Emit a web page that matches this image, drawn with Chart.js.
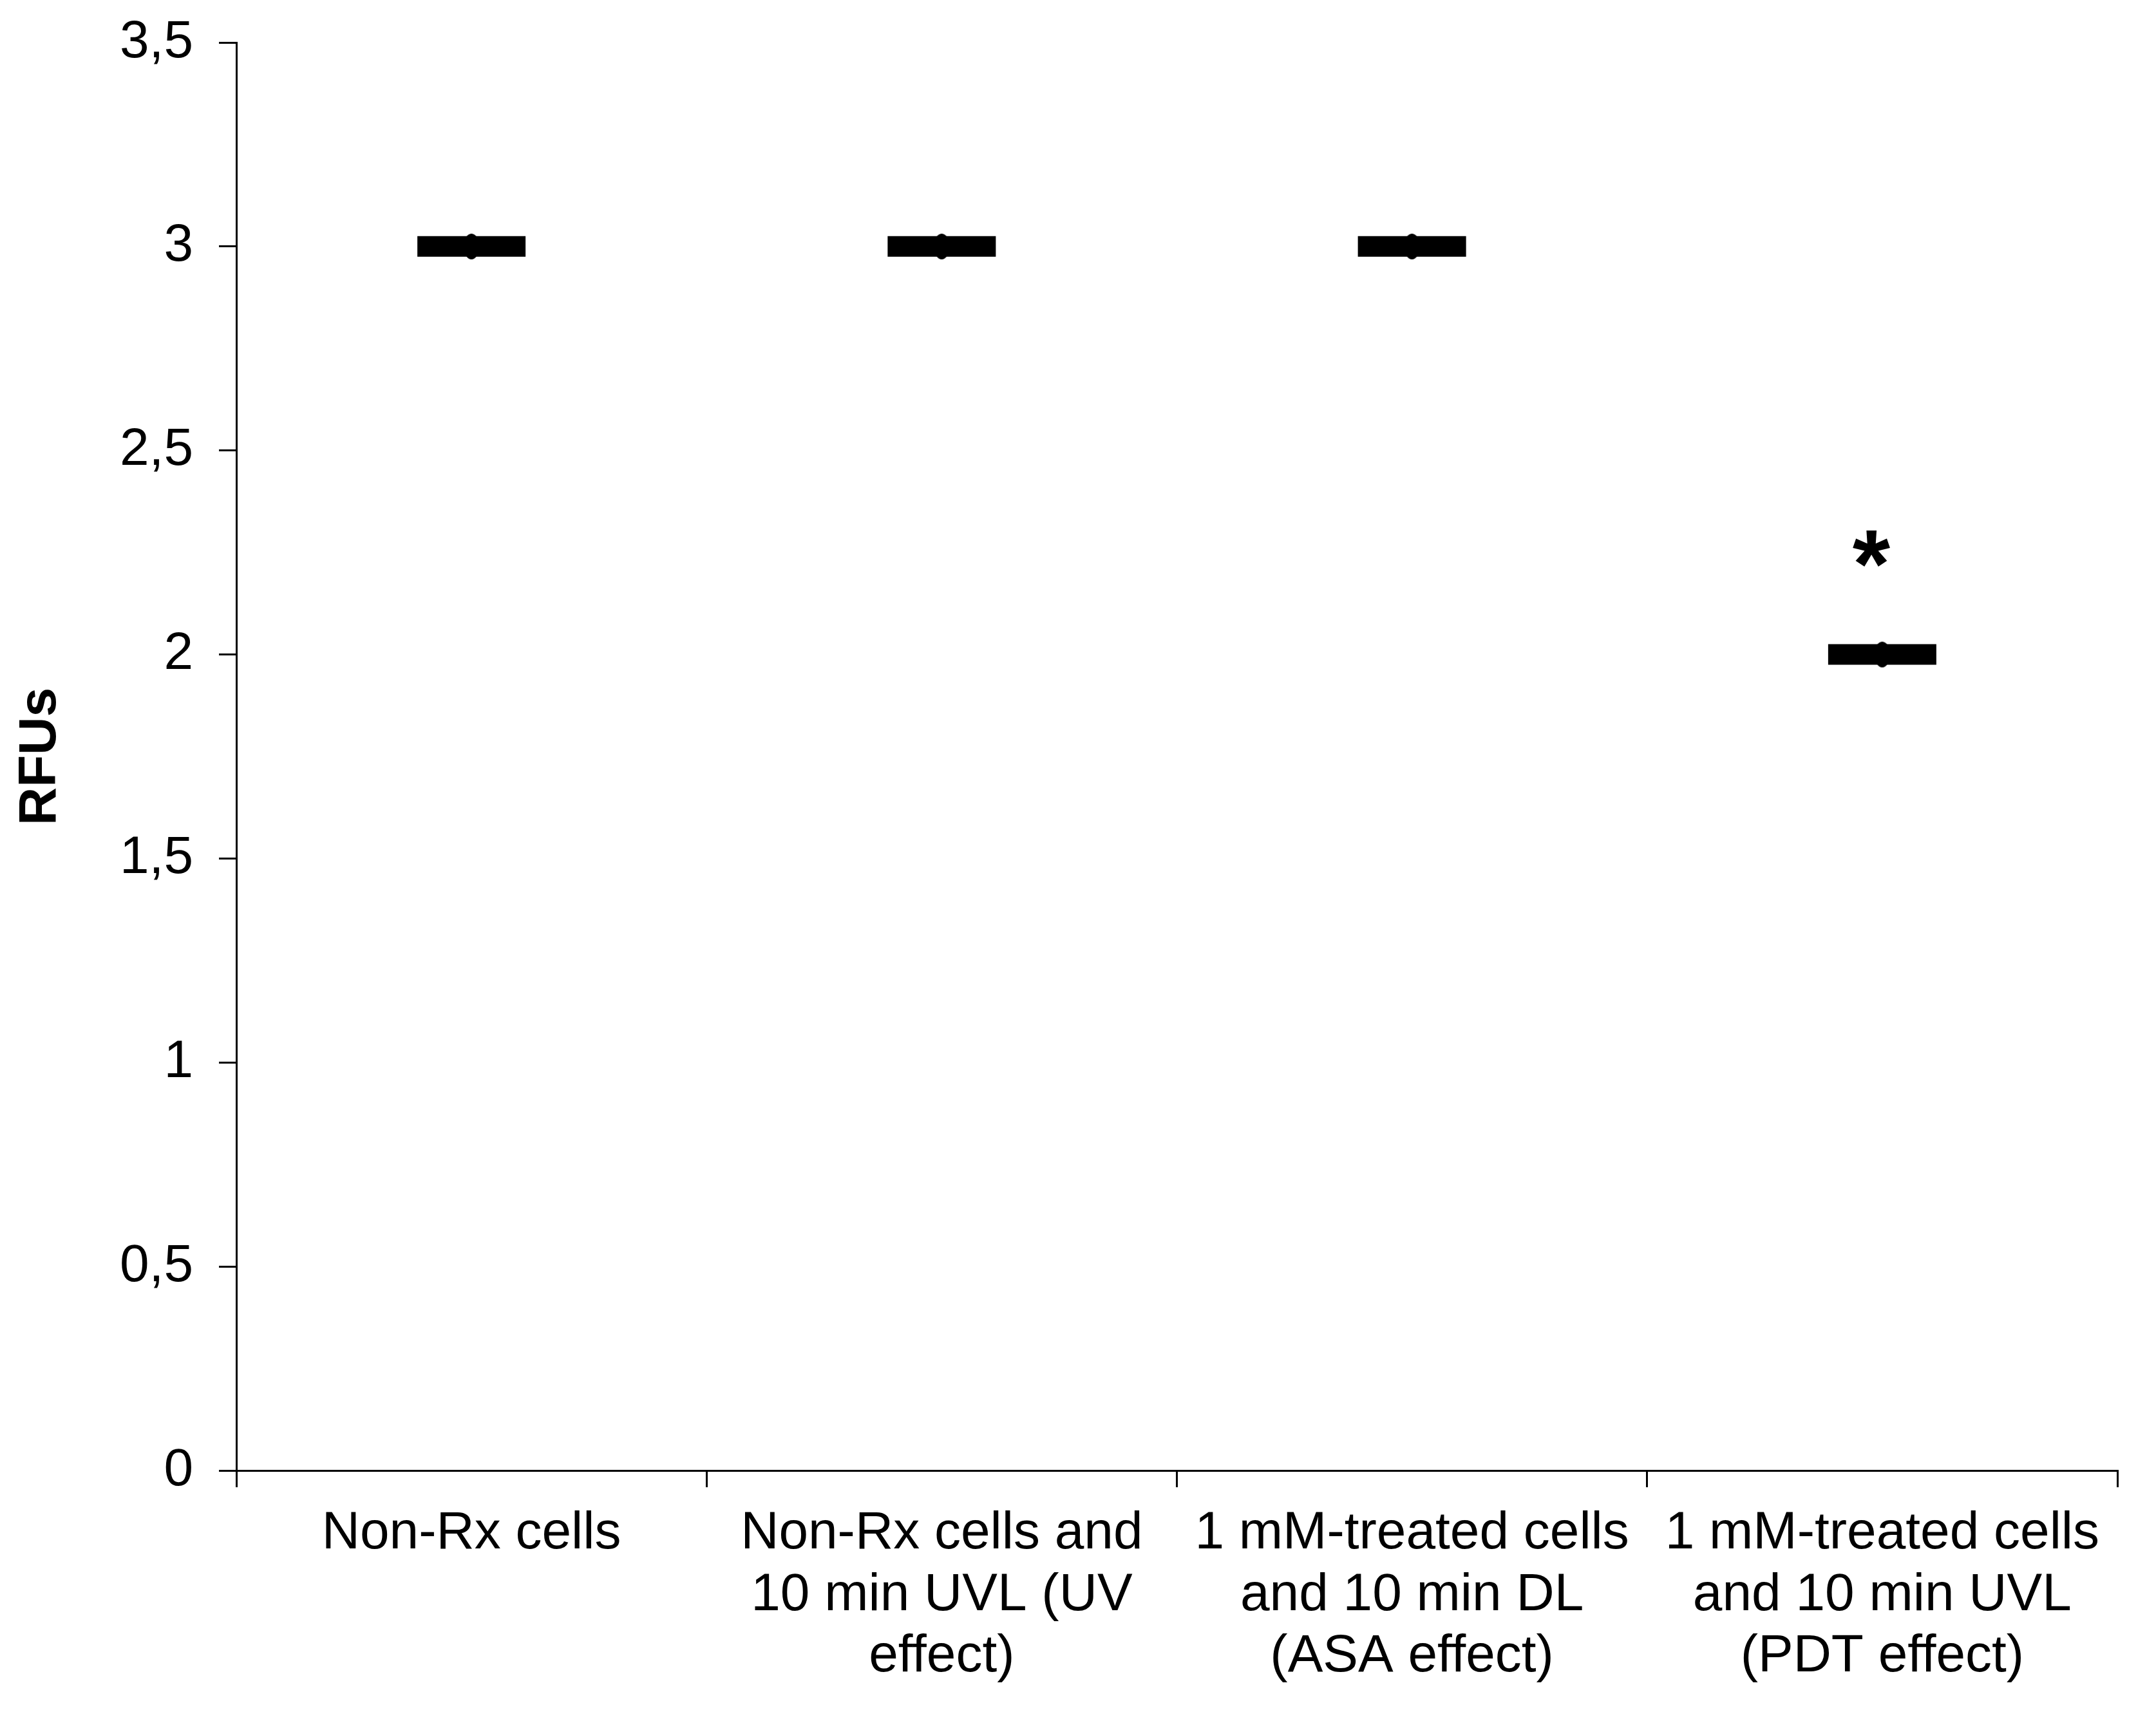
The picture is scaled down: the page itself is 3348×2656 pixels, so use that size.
<!DOCTYPE html>
<html>
<head>
<meta charset="utf-8">
<script src="https://cdn.jsdelivr.net/npm/chart.js@4/dist/chart.umd.min.js"></script>
<style>
  html, body { margin: 0; padding: 0; background: #fff; }
  canvas { display: block; }
</style>
</head>
<body>
<canvas id="grafico" width="3348" height="2656"></canvas>
<script>
// categories and values
var categorias = [
  ["Non-Rx cells"],
  ["Non-Rx cells and", "10 min UVL (UV", "effect)"],
  ["1 mM-treated cells", "and 10 min DL", "(ASA effect)"],
  ["1 mM-treated cells", "and 10 min UVL", "(PDT effect)"]
];
var valoresRFU = [3, 3, 3, 2];
var marcasSig = ["", "", "", "*"];
var nivelSig = [null, null, null, 2.25];
var ticksY = ["0", "0,5", "1", "1,5", "2", "2,5", "3", "3,5"];

var FONTE = "'Liberation Sans', Arial, Helvetica, sans-serif";

// small oval marker at the mean (sits on top of the thick bar)
var ponto = document.createElement("canvas");
ponto.width = 26;
ponto.height = 42;
var pctx = ponto.getContext("2d");
pctx.fillStyle = "#000";
pctx.beginPath();
pctx.ellipse(13, 21, 12, 20, 0, 0, Math.PI * 2);
pctx.fill();

// draws the significance asterisk above the group
var pluginAsterisco = {
  id: "asterisco",
  afterDatasetsDraw: function (chart) {
    var ctx = chart.ctx;
    var sx = chart.scales.x, sy = chart.scales.y;
    ctx.save();
    ctx.fillStyle = "#000";
    ctx.font = "bold 150px " + FONTE;
    ctx.textAlign = "center";
    ctx.textBaseline = "middle";
    for (var i = 0; i < marcasSig.length; i++) {
      if (!marcasSig[i]) continue;
      ctx.fillText(marcasSig[i], sx.getPixelForValue(i) - 17, sy.getPixelForValue(nivelSig[i]) + 28);
    }
    ctx.restore();
  }
};

var ctx = document.getElementById("grafico").getContext("2d");
window.meuGrafico = new Chart(ctx, {
  type: "line",
  data: {
    labels: categorias,
    datasets: [{
      data: valoresRFU,
      showLine: false,
      pointStyle: "line",
      pointRadius: 84,
      pointHoverRadius: 84,
      pointBorderWidth: 32,
      pointBorderColor: "#000",
      pointBackgroundColor: "#000",
      order: 2
    }, {
      data: valoresRFU,
      showLine: false,
      pointStyle: ponto,
      pointRadius: 13,
      pointBorderWidth: 0,
      pointBackgroundColor: "#000",
      order: 1
    }]
  },
  options: {
    responsive: false,
    animation: false,
    devicePixelRatio: 1,
    layout: { autoPadding: false, padding: { top: 66, right: 60, left: 0, bottom: 0 } },
    plugins: {
      legend: { display: false },
      tooltip: { enabled: false }
    },
    scales: {
      x: {
        offset: true,
        grid: {
          offset: true,
          drawOnChartArea: false,
          drawTicks: true,
          tickLength: 26,
          color: "#000",
          lineWidth: 3
        },
        border: { display: true, color: "#000", width: 3 },
        ticks: {
          color: "#000",
          font: { family: FONTE, size: 82, lineHeight: 1.17 },
          padding: 24,
          maxRotation: 0,
          autoSkip: false
        },
        afterFit: function (scale) {
          scale.height = 2656 - 2284;
          scale.paddingLeft = 0;
          scale.paddingRight = 0;
        }
      },
      y: {
        min: 0,
        max: 3.5,
        grid: {
          drawOnChartArea: false,
          drawTicks: true,
          tickLength: 27,
          color: "#000",
          lineWidth: 3
        },
        border: { display: true, color: "#000", width: 3 },
        ticks: {
          stepSize: 0.5,
          color: "#000",
          font: { family: FONTE, size: 82 },
          padding: 40,
          callback: function (v, i) { return ticksY[i]; }
        },
        title: {
          display: true,
          text: "RFUs",
          color: "#000",
          font: { family: FONTE, size: 82, weight: "bold", lineHeight: 1.2 },
          padding: { top: 14, bottom: 0 }
        },
        afterFit: function (scale) {
          scale.width = 367;
          scale.paddingTop = 0;
          scale.paddingBottom = 0;
        }
      }
    }
  },
  plugins: [pluginAsterisco]
});
</script>
</body>
</html>
